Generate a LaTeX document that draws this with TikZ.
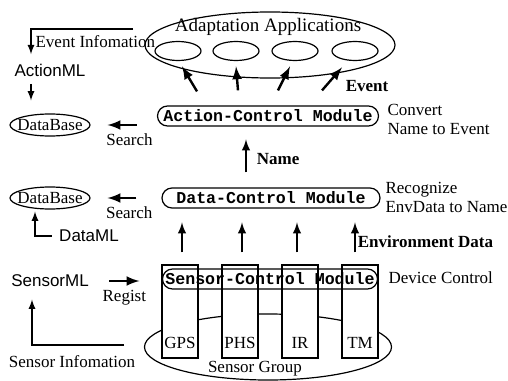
\documentclass[tikz,border=0pt]{standalone}
\usepackage{fontspec}
\setmainfont{Liberation Serif}
\setsansfont{Liberation Sans}
\setmonofont{Liberation Mono}
\usetikzlibrary{shapes.geometric}

\begin{document}
\begin{tikzpicture}[x=0.5pt,y=-0.5pt,>=latex,line width=0.6pt,
    font=\fontsize{8.5}{9.5}\selectfont,
    every node/.style={inner sep=0pt},
    module/.style={draw,rounded corners=5pt,minimum height=10pt,
      font=\ttfamily\bfseries\fontsize{8.3}{9}\selectfont},
    app/.style={draw,ellipse,minimum width=23pt,minimum height=9.5pt},
    group/.style={draw,ellipse},
    dbase/.style={draw,ellipse,minimum width=40pt,minimum height=11pt},
    sbox/.style={draw,fill=white,minimum width=18pt,text height=38.5pt,
      text depth=2pt,inner ysep=3pt},
    ml/.style={font=\sffamily\fontsize{8.5}{9.5}\selectfont},
    lbl/.style={font=\bfseries\fontsize{8.5}{9.5}\selectfont},
    slim/.style={line width=0.6pt},
    mid/.style={line width=0.9pt},
    heavy/.style={line width=1.2pt}]
  \useasboundingbox (0,0) rectangle (508,380);

  % applications
  \node[group,minimum width=125pt,minimum height=33pt] (apps) at (270,45) {};
  \node[font=\fontsize{9.5}{11}\selectfont] (apptitle) at (268,27) {Adaptation Applications};
  \node[app] (e1) at (178,51) {};
  \node[app] (e2) at (236,51) {};
  \node[app] (e3) at (295,51) {};
  \node[app] (e4) at (355,51) {};

  % modules
  \node[module,minimum width=110.5pt] (act) at (268,116) {Action-Control Module};
  \node[module,minimum width=109pt] (dat) at (271,198) {Data-Control Module};

  % sensors
  \node[group,minimum width=123.5pt,minimum height=33pt] (grp) at (268,347) {};
  \node[sbox] (gps) at (180,311.5) {GPS};
  \node[sbox] (phs) at (240,311.5) {PHS};
  \node[sbox] (ir) at (300,311.5) {IR};
  \node[sbox] (tm) at (360,311.5) {TM};
  \node[module,minimum width=107.5pt] (sen) at (270,279) {Sensor-Control Module};
  \node (grplab) at (255,369) {Sensor Group};

  % left side
  \node[anchor=west] (evinfo) at (35,42) {Event Infomation};
  \node[ml] (actml) at (50,70) {ActionML};
  \node[dbase] (db1) at (50,125) {\makebox[0pt]{DataBase}};
  \node[dbase] (db2) at (50,198) {\makebox[0pt]{DataBase}};
  \node[ml] (dml) at (89,236) {DataML};
  \node[ml] (senml) at (50,281) {SensorML};
  \node (seninfo) at (72,362) {Sensor Infomation};
  \coordinate (evtop) at (133,29);
  \coordinate (sibot) at (124,345);

  % right side
  \node[anchor=west,align=left] (conv) at (387,119) {Convert\\Name to Event};
  \node[anchor=west,align=left] (recog) at (385,197) {Recognize\\EnvData to Name};
  \node[anchor=west] (devc) at (388,278) {Device Control};
  \node[lbl] (evt) at (367,86) {Event};

  \draw[->,slim] (evtop) -| ([xshift=-9.5pt,yshift=4.5pt]actml.north);
  \draw[->,slim] ([xshift=-9.5pt,yshift=-3.5pt]actml.south) -- ([xshift=-9.5pt,yshift=6.5pt]db1.north);
  \draw[->,heavy] ([xshift=-10pt,yshift=-4.5pt]act.west) -- node[below=4pt,pos=.25] {Search} ([xshift=8.5pt]db1.east);
  \draw[->,heavy] ([xshift=-12.5pt]dat.west) -- node[below=4pt,pos=.25] {Search} ([xshift=8.5pt]db2.east);
  \draw[->,slim] ([xshift=-3.5pt]dml.west) -| ([xshift=-7.5pt,yshift=-1pt]db2.south);
  \draw[->,heavy] ([xshift=10pt]senml.east) -- node[below=4pt] {Regist} ++(30,0);
  \draw[->,slim] (sibot) -| ([xshift=-9pt,yshift=-6pt]senml.south);

  \draw[->,mid] ([xshift=-12.5pt,yshift=7.5pt]dat.north) -- node[right=5pt,pos=.4,lbl] {Name} ++(0,-33);

  \draw[->,mid] ([xshift=1pt,yshift=6pt]gps.north) -- ++(0,-30);
  \draw[->,mid] ([xshift=1pt,yshift=6pt]phs.north) -- ++(0,-30);
  \draw[->,mid] ([xshift=-1.5pt,yshift=6pt]ir.north) -- ++(0,-30);
  \draw[->,mid] ([xshift=-2.5pt,yshift=6pt]tm.north) -- node[right=1pt,pos=.37,lbl] {Environment Data} ++(0,-30);

  \draw[->,heavy] ([xshift=-35.5pt,yshift=7pt]act.north) -- ++(-15,-25);
  \draw[->,heavy] ([xshift=-15pt,yshift=7.5pt]act.north) -- ++(-2,-24);
  \draw[->,heavy] ([xshift=5pt,yshift=7.5pt]act.north) -- ++(12,-24);
  \draw[->,heavy] ([xshift=27pt,yshift=7.5pt]act.north) -- ++(20,-23);
\end{tikzpicture}
\end{document}
